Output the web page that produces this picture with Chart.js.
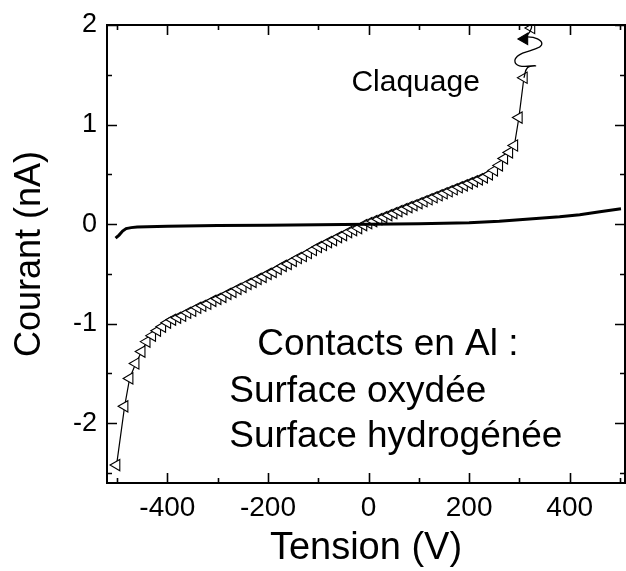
<!DOCTYPE html>
<html>
<head>
<meta charset="utf-8">
<script src="https://cdn.jsdelivr.net/npm/chart.js@4.4.0/dist/chart.umd.min.js"></script>
<style>
  html, body { margin: 0; padding: 0; background: #fff; }
  canvas { display: block; }
</style>
</head>
<body>
<canvas id="chart" width="626" height="571"></canvas>
<script>
// Surface oxydée (open triangles), tension in V, courant in nA
var oxV = [-501, -485, -475, -463, -451, -441, -430, -420, -410,
  -400, -390, -380, -370, -360, -350, -340, -330, -320, -310,
  -300, -290, -280, -270, -260, -250, -240, -230, -220, -210,
  -200, -190, -180, -170, -160, -150, -140, -130, -120, -110,
  -100, -90, -80, -70, -60, -50, -40, -30, -20, -10,
  0, 10, 20, 30, 40, 50, 60, 70, 80, 90,
  100, 110, 120, 130, 140, 150, 160, 170, 180, 190,
  200, 210, 220, 230, 240, 250, 260, 270, 280, 290, 299, 309];
var oxI = [-2.42, -1.83, -1.55, -1.40, -1.28, -1.18, -1.12, -1.07, -1.03,
  -0.99, -0.96, -0.94, -0.92, -0.89, -0.87, -0.84, -0.82, -0.80, -0.77,
  -0.75, -0.73, -0.70, -0.68, -0.65, -0.63, -0.60, -0.58, -0.55, -0.53,
  -0.50, -0.48, -0.45, -0.42, -0.40, -0.37, -0.34, -0.32, -0.29, -0.26,
  -0.23, -0.21, -0.18, -0.16, -0.13, -0.11, -0.08, -0.06, -0.04, -0.01,
  0.01, 0.03, 0.05, 0.07, 0.09, 0.11, 0.13, 0.15, 0.17, 0.19,
  0.21, 0.23, 0.25, 0.27, 0.29, 0.31, 0.33, 0.35, 0.37, 0.39,
  0.41, 0.43, 0.45, 0.47, 0.50, 0.54, 0.59, 0.66, 0.72, 0.79, 1.07, 1.47];

// breakdown trace after the last triangle
var brkV = [309, 316, 332, 300, 291, 300, 326, 344, 336, 314, 310, 324, 318];
var brkI = [1.47, 1.57, 1.59, 1.59, 1.64, 1.70, 1.75, 1.80, 1.86, 1.88, 1.86, 1.97, 2.06];
var brkMarkV = [310, 324];
var brkMarkI = [1.86, 1.97];

// Surface hydrogénée (solid line)
var hydV = [-503, -496, -489, -482, -472, -460, -400, -300, -200, -100,
  0, 100, 200, 260, 300, 340, 380, 420, 460, 502];
var hydI = [-0.14, -0.11, -0.07, -0.045, -0.035, -0.03, -0.022, -0.015, -0.01, -0.005,
  0.0, 0.005, 0.015, 0.03, 0.045, 0.06, 0.075, 0.095, 0.125, 0.155];

var xTicks = { min: -520, max: 510, step: 100 };
var yTicks = { min: -2.6, max: 2, step: 0.5 };

var FONT = "'Liberation Sans', Arial, sans-serif";

function pairs(xs, ys) {
  return xs.map(function (x, i) { return { x: x, y: ys[i] }; });
}

var notes = [
  { text: "Claquage", x: -34, y: 1.34, size: 30 },
  { text: "Contacts en Al :", x: -221, y: -1.31, size: 37 },
  { text: "Surface oxydée", x: -277, y: -1.79, size: 37 },
  { text: "Surface hydrogénée", x: -277, y: -2.24, size: 37 }
];

var frameAndTicks = {
  id: "frameAndTicks",
  afterDatasetsDraw: function (chart) {
    var ctx = chart.ctx;
    var a = chart.chartArea;
    var sx = chart.scales.x;
    var sy = chart.scales.y;
    ctx.save();
    ctx.strokeStyle = "#000";
    ctx.lineWidth = 2;
    ctx.strokeRect(a.left, a.top, a.right - a.left, a.bottom - a.top);
    ctx.lineWidth = 1.6;
    ctx.beginPath();
    sx.ticks.forEach(function (t) {
      var px = Math.round(sx.getPixelForValue(t.value)) + 0.5;
      var len = t.value % 200 === 0 ? 10 : 5;
      ctx.moveTo(px, a.bottom); ctx.lineTo(px, a.bottom - len);
      ctx.moveTo(px, a.top); ctx.lineTo(px, a.top + len);
    });
    sy.ticks.forEach(function (t) {
      var py = Math.round(sy.getPixelForValue(t.value)) + 0.5;
      var major = Math.abs(t.value - Math.round(t.value)) < 1e-6;
      var len = major ? 10 : 5;
      ctx.moveTo(a.left, py); ctx.lineTo(a.left + len, py);
      ctx.moveTo(a.right, py); ctx.lineTo(a.right - len, py);
    });
    ctx.stroke();

    ctx.fillStyle = "#000";
    ctx.textBaseline = "alphabetic";
    ctx.textAlign = "left";
    notes.forEach(function (n) {
      ctx.font = n.size + "px " + FONT;
      ctx.fillText(n.text, sx.getPixelForValue(n.x), sy.getPixelForValue(n.y));
    });
    ctx.restore();
  }
};

Chart.defaults.font.family = FONT;
Chart.defaults.color = "#000";

new Chart(document.getElementById("chart"), {
  type: "scatter",
  data: {
    datasets: [
      {
        label: "Surface hydrogénée",
        data: pairs(hydV, hydI),
        showLine: true,
        borderColor: "#000",
        borderWidth: 3,
        pointRadius: 0
      },
      {
        label: "Claquage",
        data: pairs(brkV, brkI),
        showLine: true,
        borderColor: "#000",
        borderWidth: 1.3,
        tension: 0.45,
        pointRadius: 0
      },
      {
        label: "Surface oxydée",
        data: pairs(oxV, oxI),
        showLine: true,
        borderColor: "#000",
        borderWidth: 1.2,
        pointStyle: "triangle",
        rotation: -90,
        pointRadius: 6.5,
        pointBorderWidth: 1.1,
        pointBorderColor: "#000",
        pointBackgroundColor: "#fff"
      },
      {
        label: "Claquage points",
        data: pairs(brkMarkV, brkMarkI),
        showLine: false,
        pointStyle: "triangle",
        rotation: -90,
        pointRadius: 6.5,
        pointBorderWidth: 1.1,
        pointBorderColor: "#000",
        pointBackgroundColor: function (c) { return c.dataIndex === 0 ? "#000" : "#fff"; }
      }
    ]
  },
  options: {
    responsive: false,
    animation: false,
    layout: { autoPadding: false, padding: { top: 25, right: 1, left: 0, bottom: 0 } },
    plugins: {
      legend: { display: false },
      tooltip: { enabled: false }
    },
    scales: {
      x: {
        type: "linear",
        position: "bottom",
        min: xTicks.min,
        max: xTicks.max,
        grid: { display: false, drawTicks: false },
        border: { display: false },
        ticks: {
          stepSize: xTicks.step,
          includeBounds: false,
          autoSkip: false,
          maxRotation: 0,
          padding: 8,
          font: { size: 28 },
          callback: function (v) { return v % 200 === 0 ? String(v) : ""; }
        },
        title: {
          display: true,
          text: "Tension (V)",
          font: { size: 38 },
          padding: { top: 0, bottom: 0 }
        },
        afterFit: function (s) {
          s.height = 88;
          s.paddingLeft = 0;
          s.paddingRight = 0;
        }
      },
      y: {
        type: "linear",
        min: yTicks.min,
        max: yTicks.max,
        grid: { display: false, drawTicks: false },
        border: { display: false },
        ticks: {
          stepSize: yTicks.step,
          includeBounds: false,
          autoSkip: false,
          padding: 10,
          font: { size: 27 },
          callback: function (v) {
            return Math.abs(v - Math.round(v)) < 1e-6 ? String(Math.round(v)) : "";
          }
        },
        title: {
          display: true,
          text: "Courant (nA)",
          font: { size: 36 },
          padding: { top: 8, bottom: 0 }
        },
        afterFit: function (s) {
          s.width = 107;
          s.paddingTop = 0;
          s.paddingBottom = 0;
        }
      }
    }
  },
  plugins: [frameAndTicks]
});
</script>
</body>
</html>
